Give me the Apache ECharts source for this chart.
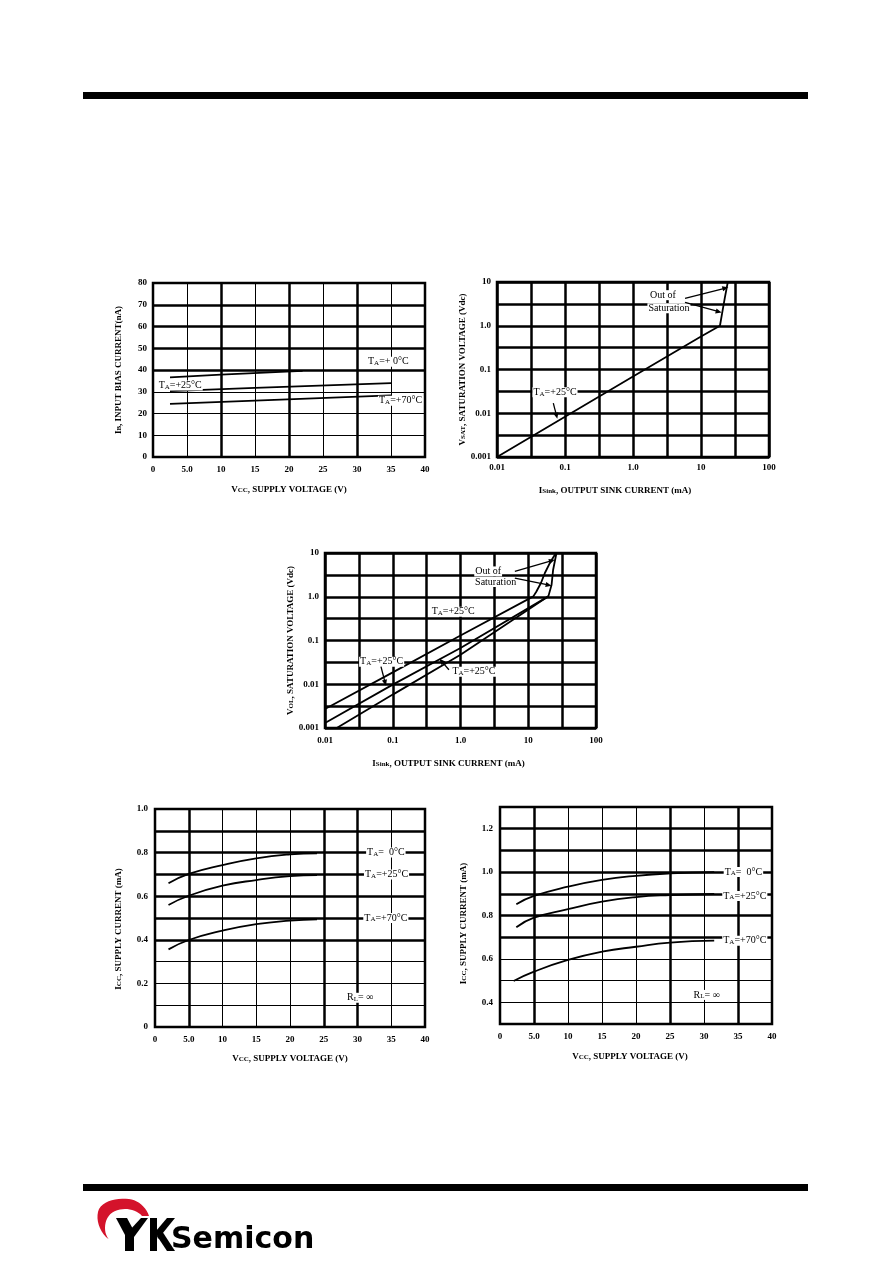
<!DOCTYPE html>
<html><head><meta charset="utf-8">
<script src="https://cdn.jsdelivr.net/npm/echarts@6.0.0/dist/echarts.min.js"></script>
<style>html,body{margin:0;padding:0;background:#fff;}#c{width:892px;height:1263px;}</style>
</head><body><div id="c"></div><script>
// ---------------- data ----------------
const linXTicks = ['0','5.0','10','15','20','25','30','35','40'];
const biasYTicks = ['0','10','20','30','40','50','60','70','80'];
const logXTicks = ['0.01','0.1','1.0','10','100'];
const logYTicks = ['0.001','0.01','0.1','1.0','10'];
const icc1YTicks = ['0','0.2','0.4','0.6','0.8','1.0'];
const icc2YTicks = ['0.4','0.6','0.8','1.0','1.2'];

// Input bias current vs supply voltage (nA)
const biasT0  = [[2.5,36.6],[10,37.9],[22,39.6]];
const biasT25 = [[2.5,30.3],[15,31.8],[35,34.0]];
const biasT70 = [[2.5,24.4],[15,25.9],[35,28.3]];

// Vsat vs sink current
const vsatT25 = [[0.01,0.001],[0.1,0.0083],[1.0,0.069],[10,0.57],[19,1.0],[20.4,1.9],[22.5,4.5],[24.8,10]];

// Vol vs sink current
const volUpper  = [[0.01,0.00272],[0.1,0.0187],[1.0,0.13],[11.9,1.02],[13.2,1.32],[15.4,2.06],[17.6,3.49],[20.8,5.9],[24.7,9.1],[26.1,10]];
const volMiddle = [[0.01,0.0013],[0.1,0.0098],[1.0,0.0674],[19.8,1.02],[22.1,1.88],[23.3,4.15],[26.1,10]];
const volLower  = [[0.0149,0.001],[0.1,0.0058],[1.0,0.047],[19.8,1.02]];

// Supply current (chart A)
const icc1T0  = [[2,0.659],[5,0.702],[10,0.743],[15,0.774],[20,0.792],[24,0.797]];
const icc1T25 = [[2,0.56],[5,0.602],[10,0.648],[15,0.674],[20,0.692],[24,0.697]];
const icc1T70 = [[2,0.356],[5,0.399],[10,0.442],[15,0.472],[20,0.488],[24,0.494]];

// Supply current (chart B)
const icc2T0  = [[2.4,0.852],[5,0.89],[10,0.933],[15,0.964],[20,0.983],[25,0.994],[31.5,1.0]];
const icc2T25 = [[2.4,0.746],[5,0.79],[10,0.829],[15,0.864],[20,0.885],[25,0.894],[31.5,0.899]];
const icc2T70 = [[2.0,0.498],[5,0.541],[10,0.595],[15,0.633],[20,0.656],[25,0.675],[31.5,0.684]];

// ---------------- chart ----------------
const SERIF = 'Liberation Serif';
const BLACK = '#000';
const chart = echarts.init(document.getElementById('c'), null, {renderer:'canvas', width:892, height:1263});

function nameStyle(pad){
  return {fontFamily:SERIF, fontSize:9, fontWeight:'bold', color:BLACK, padding:pad||0,
    rich:{s:{fontFamily:SERIF, fontSize:7, fontWeight:'bold', color:BLACK, verticalAlign:'bottom'}}};
}
function mainAxis(o){
  return {type:'value', gridIndex:o.grid, min:o.min, max:o.max, interval:o.interval,
    name:o.name, nameLocation:'middle', nameGap:o.gap, nameTextStyle:nameStyle(o.pad),
    axisLine:{show:false}, axisTick:{show:false},
    axisLabel:{formatter:o.fmt, color:BLACK, fontFamily:SERIF, fontSize:9, fontWeight:'bold', margin:o.margin||7,
      showMinLabel:true, showMaxLabel:true},
    splitLine:{show:true, lineStyle:{color:BLACK, width:o.width}}};
}
function thick(n, idx){ const a=[]; for(let i=0;i<n;i++) a.push(idx.indexOf(i)>=0?BLACK:'rgba(0,0,0,0)'); return a; }
function overlayAxis(grid,min,max,interval,pos,colors){
  return {type:'value', gridIndex:grid, min, max, interval, position:pos,
    axisLine:{show:false}, axisTick:{show:false}, axisLabel:{show:false},
    splitLine:{show:true, lineStyle:{color:colors, width:2.5}}};
}
const fmtLinX = v => linXTicks[Math.round(v/5)] || '';
const fmtBiasY = v => biasYTicks[Math.round(v/10)] || '';
const fmtLogX = v => { const k=Math.round(v); return Math.abs(v-k)<1e-6 ? logXTicks[k+2] : ''; };
const fmtLogY = v => { const k=Math.round(v); return Math.abs(v-k)<1e-6 ? logYTicks[k+3] : ''; };
const fmtIcc1 = v => { const k=Math.round(v*10); return k%2===0 ? icc1YTicks[k/2] : ''; };
const fmtIcc2 = v => { const k=Math.round(v*10); return (k%2===0 && k>=4 && k<=12) ? icc2YTicks[(k-4)/2] : ''; };

const gridBase = {show:true, borderColor:BLACK, borderWidth:2.5, backgroundColor:'rgba(0,0,0,0)', containLabel:false};
const grids = [
  Object.assign({left:153, top:283, width:272, height:174}, gridBase),
  Object.assign({left:497, top:282, width:272, height:175}, gridBase),
  Object.assign({left:325, top:553, width:271, height:175}, gridBase),
  Object.assign({left:155, top:809, width:270, height:218}, gridBase),
  Object.assign({left:500, top:807, width:272, height:217}, gridBase)
];

const xAxes = [
  mainAxis({grid:0,min:0,max:40,interval:5,fmt:fmtLinX,name:'V{s|CC}, SUPPLY VOLTAGE (V)',gap:28,width:1,margin:8}),
  overlayAxis(0,0,40,5,'top',thick(9,[2,4,6])),
  mainAxis({grid:1,min:-2,max:2,interval:0.5,fmt:fmtLogX,name:'I{s|Sink}, OUTPUT SINK CURRENT (mA)',gap:29,pad:[0,36,0,0],width:2.5,margin:6}),
  mainAxis({grid:2,min:-2,max:2,interval:0.5,fmt:fmtLogX,name:'I{s|Sink}, OUTPUT SINK CURRENT (mA)',gap:31,pad:[0,24,0,0],width:2.5,margin:8}),
  mainAxis({grid:3,min:0,max:40,interval:5,fmt:fmtLinX,name:'V{s|CC}, SUPPLY VOLTAGE (V)',gap:27,width:1,margin:8}),
  overlayAxis(3,0,40,5,'top',thick(9,[1,5,6])),
  mainAxis({grid:4,min:0,max:40,interval:5,fmt:fmtLinX,name:'V{s|CC}, SUPPLY VOLTAGE (V)',gap:28,pad:[0,12,0,0],width:1,margin:8}),
  overlayAxis(4,0,40,5,'top',thick(9,[1,5,7]))
];
const yAxes = [
  mainAxis({grid:0,min:0,max:80,interval:10,fmt:fmtBiasY,name:'I{s|B}, INPUT BIAS CURRENT(nA)',gap:30,width:1,margin:6}),
  overlayAxis(0,0,80,10,'right',thick(9,[4,5,6,7])),
  mainAxis({grid:1,min:-3,max:1,interval:0.5,fmt:fmtLogY,name:'V{s|SAT}, SATURATION VOLTAGE (Vdc)',gap:29,width:2.5,margin:6}),
  mainAxis({grid:2,min:-3,max:1,interval:0.5,fmt:fmtLogY,name:'V{s|OL}, SATURATION VOLTAGE (Vdc)',gap:30,width:2.5,margin:6}),
  mainAxis({grid:3,min:0,max:1.0,interval:0.1,fmt:fmtIcc1,name:'I{s|CC}, SUPPLY CURRENT (mA)',gap:32,pad:[0,22,0,0],width:1,margin:7}),
  overlayAxis(3,0,1.0,0.1,'right',thick(11,[4,5,6,7,8,9])),
  mainAxis({grid:4,min:0.3,max:1.3,interval:0.1,fmt:fmtIcc2,name:'I{s|CC}, SUPPLY CURRENT (mA)',gap:32,pad:[0,16,0,0],width:1,margin:7}),
  overlayAxis(4,0.3,1.3,0.1,'right',thick(11,[4,5,6,7,8,9]))
];

const lg = arr => arr.map(p => [Math.log10(p[0]), Math.log10(p[1])]);
function line(name, xi, yi, data, smooth){
  return {type:'line', name, xAxisIndex:xi, yAxisIndex:yi, data, showSymbol:false, symbol:'none',
    smooth: smooth ? 0.5 : false, lineStyle:{color:BLACK, width:1.8}, z:5, silent:true};
}
const series = [
  line('bias0',0,0,biasT0), line('bias25',0,0,biasT25), line('bias70',0,0,biasT70),
  line('vsat',2,2,lg(vsatT25)),
  line('volU',3,3,lg(volUpper)), line('volM',3,3,lg(volMiddle)), line('volL',3,3,lg(volLower)),
  line('icc10',4,4,icc1T0,true), line('icc125',4,4,icc1T25,true), line('icc170',4,4,icc1T70,true),
  line('icc20',6,6,icc2T0,true), line('icc225',6,6,icc2T25,true), line('icc270',6,6,icc2T70,true)
];

// logo swoosh outline sampled from cubic curves
function bez(p0,p1,p2,p3,n){ const out=[]; for(let i=1;i<=n;i++){const t=i/n,u=1-t;
  out.push([u*u*u*p0[0]+3*u*u*t*p1[0]+3*u*t*t*p2[0]+t*t*t*p3[0], u*u*u*p0[1]+3*u*u*t*p1[1]+3*u*t*t*p2[1]+t*t*t*p3[1]]);} return out; }
const sw = [[108.7,1239.3]]
  .concat(bez([108.7,1239.3],[99,1232],[95,1218],[99,1209],10))
  .concat(bez([99,1209],[104,1200],[118,1198],[129,1199],10))
  .concat(bez([129,1199],[138,1200],[146,1207],[149,1216],10))
  .concat([[142,1216]])
  .concat(bez([142,1216],[137,1210],[128,1208],[120,1209.5],10))
  .concat(bez([120,1209.5],[110,1211],[105,1219],[105,1228],10))
  .concat(bez([105,1228],[105,1233],[106.5,1236],[108.7,1239.3],6));

// page decoration (header/footer bars and logo)
const page = [
  {type:'rect', shape:{x:83,y:92,width:725,height:7}, style:{fill:BLACK}},
  {type:'rect', shape:{x:83,y:1184,width:725,height:7}, style:{fill:BLACK}},
  {type:'polygon', shape:{points:sw}, style:{fill:'#d4132b'}},
  {type:'polygon', shape:{points:[[116,1218],[127,1218],[134,1231],[125,1235]]}, style:{fill:BLACK}},
  {type:'rect', shape:{x:125,y:1228,width:9,height:23}, style:{fill:BLACK}},
  {type:'polygon', shape:{points:[[141,1218],[148,1218],[134,1237],[129,1231]]}, style:{fill:BLACK}},
  {type:'rect', shape:{x:150,y:1218,width:7,height:33}, style:{fill:BLACK}},
  {type:'polygon', shape:{points:[[156,1231],[167,1218],[175,1218],[158,1239]]}, style:{fill:BLACK}},
  {type:'polygon', shape:{points:[[157,1236],[162,1231],[175,1251],[167,1251]]}, style:{fill:BLACK}},
  {type:'text', x:171, y:1240, style:{text:'Semicon', fontFamily:'DejaVu Sans', fontWeight:'bold', fontSize:30, fill:BLACK, align:'left', verticalAlign:'middle'}}
];

chart.setOption({
  animation:false,
  textStyle:{fontFamily:SERIF, color:BLACK},
  grid:grids, xAxis:xAxes, yAxis:yAxes, series
});

// ---------------- annotations (anchored in data space) ----------------
const axisIdx = [{x:0,y:0},{x:2,y:2},{x:3,y:3},{x:4,y:4},{x:6,y:6}];
const isLog = [false,true,true,false,false];
function px(g, p){
  const v = isLog[g] ? [Math.log10(p[0]), Math.log10(p[1])] : p;
  return chart.convertToPixel({xAxisIndex:axisIdx[g].x, yAxisIndex:axisIdx[g].y}, v);
}
const notes = [
  {g:0, t:'T{a|A}=+ 0°C', at:[34.6,43.8]},
  {g:0, t:'T{a|A}=+25°C', at:[4.0,32.9]},
  {g:0, t:'T{a|A}=+70°C', at:[36.4,25.9]},
  {g:1, t:'Out of', at:[2.76,5.0]},
  {g:1, t:'Saturation', at:[3.38,2.5]},
  {g:1, t:'T{a|A}=+25°C', at:[0.0713,0.0301]},
  {g:2, t:'Out of', at:[2.56,3.79]},
  {g:2, t:'Saturation', at:[3.3,2.17]},
  {g:2, t:'T{a|A}=+25°C', at:[0.78,0.455]},
  {g:2, t:'T{a|A}=+25°C', at:[0.0686,0.0327]},
  {g:2, t:'T{a|A}=+25°C', at:[1.58,0.0194]},
  {g:3, t:'T{a|A}=  0°C', at:[34.2,0.8]},
  {g:3, t:'T{a|A}=+25°C', at:[34.3,0.7]},
  {g:3, t:'T{a|A}=+70°C', at:[34.2,0.5]},
  {g:3, t:'R{a|L}= ∞', at:[30.4,0.134]},
  {g:4, t:'T{a|A}=  0°C', at:[35.8,1.0]},
  {g:4, t:'T{a|A}=+25°C', at:[36.0,0.89]},
  {g:4, t:'T{a|A}=+70°C', at:[36.0,0.684]},
  {g:4, t:'R{a|L}= ∞', at:[30.4,0.434]}
];
const arrows = [
  {g:1, from:[5.82,4.22], to:[25.2,7.55]},
  {g:1, from:[5.82,3.41], to:[20.1,2.01]},
  {g:1, from:[0.0673,0.0171], to:[0.0771,0.00748]},
  {g:2, from:[6.34,3.79], to:[24.7,7.03]},
  {g:2, from:[6.34,2.68], to:[22.1,1.79]},
  {g:2, from:[0.067,0.0252], to:[0.0794,0.00927]},
  {g:2, from:[0.675,0.0215], to:[0.489,0.0384]}
];
const ann = [];
notes.forEach(n => {
  const p = px(n.g, n.at);
  ann.push({type:'text', x:p[0], y:p[1], z:50, style:{text:n.t, fontFamily:SERIF, fontSize:10, fill:BLACK,
    align:'center', verticalAlign:'middle', backgroundColor:'#fff', padding:[0,1,0,1],
    rich:{a:{fontFamily:SERIF, fontSize:7, fill:BLACK, verticalAlign:'bottom'}}}});
});
arrows.forEach(a => {
  const p1 = px(a.g, a.from), p2 = px(a.g, a.to);
  const dx = p2[0]-p1[0], dy = p2[1]-p1[1], L = Math.hypot(dx,dy);
  const ux = dx/L, uy = dy/L, nx = -uy, ny = ux, hl = 6, hw = 2.6;
  ann.push({type:'line', z:51, shape:{x1:p1[0],y1:p1[1],x2:p2[0]-ux*hl*0.8,y2:p2[1]-uy*hl*0.8}, style:{stroke:BLACK, lineWidth:1.3}});
  ann.push({type:'polygon', z:51, shape:{points:[[p2[0],p2[1]],[p2[0]-ux*hl+nx*hw,p2[1]-uy*hl+ny*hw],[p2[0]-ux*hl-nx*hw,p2[1]-uy*hl-ny*hw]]}, style:{fill:BLACK}});
});
chart.setOption({graphic:{elements:page.concat(ann)}});
</script></body></html>
